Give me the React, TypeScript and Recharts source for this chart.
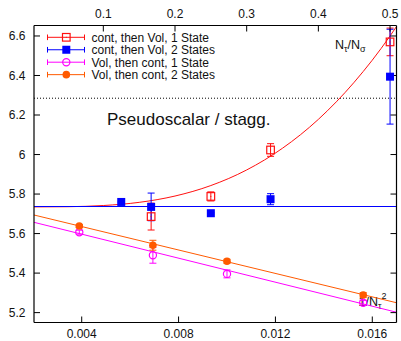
import { ComposedChart, Line, Scatter, XAxis, YAxis, ErrorBar, ReferenceLine } from "recharts"

const W = 401
const H = 341

const RED = "#ff1010"
const BLUE = "#0000ff"
const MAGENTA = "#ff00ff"
const ORANGE = "#ff5a00"

// axis ticks
const topTicks = [0.1, 0.2, 0.3, 0.4, 0.5] // N_tau / N_sigma
const bottomTicks = [0.004, 0.008, 0.012, 0.016] // 1 / N_tau^2
const yTicks = [5.2, 5.4, 5.6, 5.8, 6, 6.2, 6.4, 6.6]

// "cont, then Vol" points live on the top axis (N_tau/N_sigma)
const contVol1 = [
  { x: 0.1667, y: 5.686, e: 0.068 },
  { x: 0.25, y: 5.788, e: 0.023 },
  { x: 0.3333, y: 6.023, e: 0.032 },
  { x: 0.5, y: 6.57, e: 0.07 },
]
const contVol2 = [
  { x: 0.125, y: 5.76, e: 0.004 },
  { x: 0.1667, y: 5.735, e: 0.07 },
  { x: 0.25, y: 5.703, e: 0.004 },
  { x: 0.3333, y: 5.774, e: 0.028 },
  { x: 0.5, y: 6.394, e: 0.24 },
]
// "Vol, then cont" points live on the bottom axis (1/N_tau^2)
const volCont1 = [
  { x: 0.0039, y: 5.607, e: 0.01 },
  { x: 0.00694, y: 5.49, e: 0.04 },
  { x: 0.01, y: 5.396, e: 0.02 },
  { x: 0.015625, y: 5.25, e: 0.012 },
]
const volCont2 = [
  { x: 0.0039, y: 5.638, e: 0.008 },
  { x: 0.00694, y: 5.541, e: 0.025 },
  { x: 0.01, y: 5.46, e: 0.01 },
  { x: 0.015625, y: 5.289, e: 0.012 },
]

// fit curves
const redFit = [
  { x: 0.0033, y: 5.735 },
  { x: 0.05, y: 5.736 },
  { x: 0.1, y: 5.742 },
  { x: 0.15, y: 5.758 },
  { x: 0.2, y: 5.79 },
  { x: 0.25, y: 5.843 },
  { x: 0.3, y: 5.922 },
  { x: 0.35, y: 6.032 },
  { x: 0.4, y: 6.178 },
  { x: 0.45, y: 6.366 },
  { x: 0.5, y: 6.6 },
  { x: 0.509, y: 6.648 },
]
const blueFit = [
  { x: 0.0033, y: 5.737 },
  { x: 0.509, y: 5.737 },
]
const orangeFit = [
  { x: 0.00203, y: 5.694 },
  { x: 0.017, y: 5.25 },
]
const magentaFit = [
  { x: 0.00203, y: 5.657 },
  { x: 0.017, y: 5.202 },
]

const legendItems = [
  { label: "cont, then Vol, 1 State", color: RED, marker: "openSquare" },
  { label: "cont, then Vol, 2 States", color: BLUE, marker: "square" },
  { label: "Vol, then cont, 1 State", color: MAGENTA, marker: "openCircle" },
  { label: "Vol, then cont, 2 States", color: ORANGE, marker: "circle" },
]

const FONT = "'Liberation Sans', Arial, Helvetica, sans-serif"

function Marker({ kind, cx, cy, color }: { kind: string; cx: number; cy: number; color: string }) {
  if (kind === "openSquare")
    return (
      <g>
        <rect x={cx - 3.8} y={cy - 3.8} width={7.6} height={7.6} fill="#fff" fillOpacity={0} stroke={color} strokeWidth={1.2} />
        <rect x={cx - 0.5} y={cy - 0.5} width={1} height={1} fill={color} />
      </g>
    )
  if (kind === "square") return <rect x={cx - 4} y={cy - 4} width={8} height={8} fill={color} />
  if (kind === "openCircle") return <circle cx={cx} cy={cy} r={3.6} fill="none" stroke={color} strokeWidth={1.2} />
  return <circle cx={cx} cy={cy} r={3.8} fill={color} />
}

const shape = (kind: string, color: string) => (p: any) => <Marker kind={kind} cx={p.cx} cy={p.cy} color={color} />

function Backdrop() {
  return (
    <svg width={W} height={H} style={{ position: "absolute", left: 0, top: 0 }} fontFamily={FONT}>
      {legendItems.map((it, i) => {
        const y = 37.3 + i * 12.45
        return (
          <g key={it.label}>
            <line x1={47.5} x2={84.5} y1={y} y2={y} stroke={it.color} strokeWidth={1} />
            <line x1={47.5} x2={47.5} y1={y - 2.8} y2={y + 2.8} stroke={it.color} strokeWidth={1} />
            <line x1={84.5} x2={84.5} y1={y - 2.8} y2={y + 2.8} stroke={it.color} strokeWidth={1} />
            <Marker kind={it.marker} cx={66.3} cy={y} color={it.color} />
            <text x={91.5} y={y + 4.3} fontSize={12} fill="#111">
              {it.label}
            </text>
          </g>
        )
      })}
      <text x={107} y={124.5} fontSize={17} fill="#111">
        Pseudoscalar / stagg.
      </text>
      <text x={335} y={49} fontSize={12.5} fill="#111">
        N<tspan fontSize={9} dy={3}>τ</tspan>
        <tspan dy={-3}>/N</tspan>
        <tspan fontSize={9} dy={3}>σ</tspan>
      </text>
      <text x={358.5} y={306} fontSize={12.5} fill="#111">
        1/N<tspan fontSize={9} dy={3}>τ</tspan>
        <tspan fontSize={9} dy={-10}>2</tspan>
      </text>
    </svg>
  )
}

const tickStyle = { fontSize: 12, fill: "#111", fontFamily: FONT }

export default function App() {
  return (
    <div style={{ position: "absolute", left: 0, top: 0, width: W, height: H, background: "#fff" }}>
      <Backdrop />
      <div style={{ position: "absolute", left: 0, top: 0 }}>
        <ComposedChart width={W} height={H} margin={{ top: 0, right: 0, bottom: 0, left: 0 }}>
          <XAxis
            xAxisId="bot"
            dataKey="x"
            type="number"
            orientation="bottom"
            domain={[0.00203, 0.017]}
            ticks={bottomTicks}
            interval={0}
            allowDataOverflow
            height={18.5}
            tickSize={-6}
            tickMargin={13}
            tick={tickStyle}
            stroke="#000"
            axisLine={{ stroke: "#000", strokeWidth: 1.2 }}
          />
          <XAxis
            xAxisId="top"
            dataKey="x"
            type="number"
            orientation="top"
            domain={[0.0033, 0.509]}
            ticks={topTicks}
            interval={0}
            allowDataOverflow
            height={25.5}
            tickSize={-6}
            tickMargin={14}
            tick={tickStyle}
            stroke="#000"
            axisLine={{ stroke: "#000", strokeWidth: 1.2 }}
          />
          <YAxis
            yAxisId="l"
            dataKey="y"
            type="number"
            domain={[5.15, 6.653]}
            ticks={yTicks}
            interval={0}
            allowDataOverflow
            width={34}
            tickSize={-6}
            tickMargin={14.5}
            tick={tickStyle}
            stroke="#000"
            axisLine={{ stroke: "#000", strokeWidth: 1.2 }}
          />
          <YAxis
            yAxisId="r"
            orientation="right"
            dataKey="y"
            type="number"
            domain={[5.15, 6.653]}
            ticks={yTicks}
            interval={0}
            allowDataOverflow
            width={4.5}
            tickSize={-6}
            tickFormatter={() => ""}
            stroke="#000"
            axisLine={{ stroke: "#000", strokeWidth: 1.2 }}
          />
          <ReferenceLine xAxisId="bot" yAxisId="l" y={6.285} stroke="#000" strokeDasharray="1 2" strokeWidth={1} />
          <Line data={redFit} xAxisId="top" yAxisId="l" dataKey="y" type="monotone" dot={false} stroke={RED} strokeWidth={1} isAnimationActive={false} />
          <Line data={blueFit} xAxisId="top" yAxisId="r" dataKey="y" type="linear" dot={false} stroke={BLUE} strokeWidth={1} isAnimationActive={false} />
          <Line data={orangeFit} xAxisId="bot" yAxisId="l" dataKey="y" type="linear" dot={false} stroke={ORANGE} strokeWidth={1} isAnimationActive={false} />
          <Line data={magentaFit} xAxisId="bot" yAxisId="l" dataKey="y" type="linear" dot={false} stroke={MAGENTA} strokeWidth={1} isAnimationActive={false} />
          <Scatter data={contVol1} xAxisId="top" yAxisId="l" dataKey="y" shape={shape("openSquare", RED)} isAnimationActive={false}>
            <ErrorBar dataKey="e" direction="y" width={3.5} stroke={RED} strokeWidth={1} isAnimationActive={false} />
          </Scatter>
          <Scatter data={contVol2} xAxisId="top" yAxisId="l" dataKey="y" shape={shape("square", BLUE)} isAnimationActive={false}>
            <ErrorBar dataKey="e" direction="y" width={3.5} stroke={BLUE} strokeWidth={1} isAnimationActive={false} />
          </Scatter>
          <Scatter data={volCont1} xAxisId="bot" yAxisId="l" dataKey="y" shape={shape("openCircle", MAGENTA)} isAnimationActive={false}>
            <ErrorBar dataKey="e" direction="y" width={3.5} stroke={MAGENTA} strokeWidth={1} isAnimationActive={false} />
          </Scatter>
          <Scatter data={volCont2} xAxisId="bot" yAxisId="l" dataKey="y" shape={shape("circle", ORANGE)} isAnimationActive={false}>
            <ErrorBar dataKey="e" direction="y" width={3.5} stroke={ORANGE} strokeWidth={1} isAnimationActive={false} />
          </Scatter>
        </ComposedChart>
      </div>
    </div>
  )
}
